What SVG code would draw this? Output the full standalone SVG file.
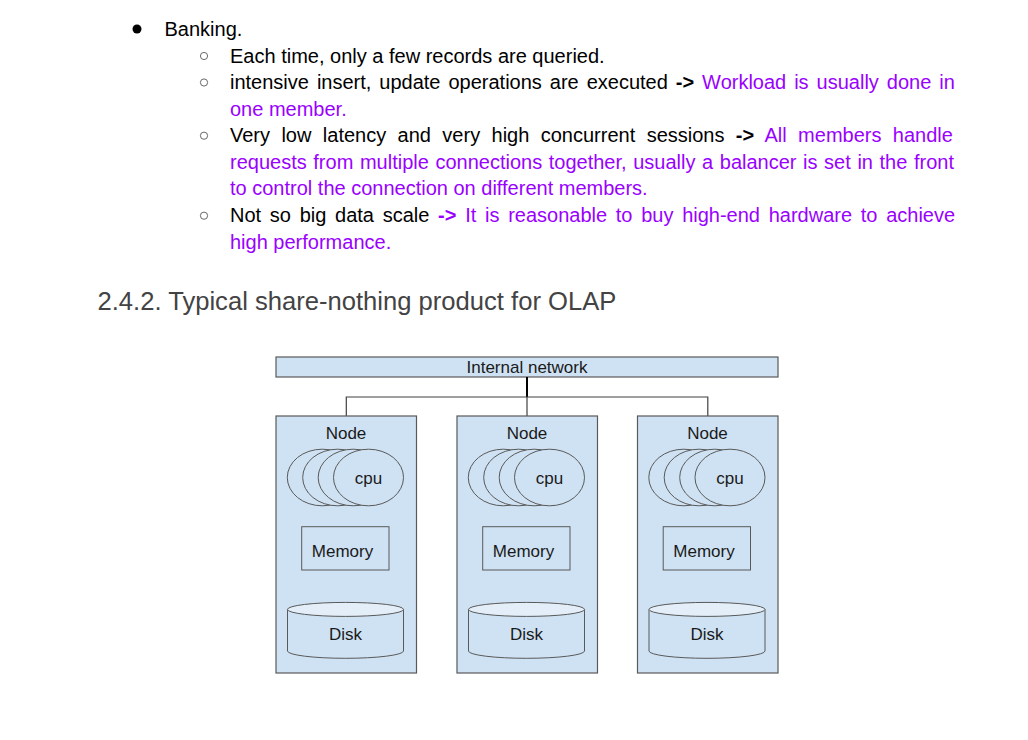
<svg xmlns="http://www.w3.org/2000/svg" width="1028" height="740" viewBox="0 0 1028 740">
<style>
.t{font-family:"Liberation Sans",Arial,sans-serif;font-size:20px;fill:#000}
.p{fill:#9900ff}
.b{font-weight:bold}
.h{font-family:"Liberation Sans",Arial,sans-serif;font-size:25.6px;fill:#434343}
.d{font-family:"Liberation Sans",Arial,sans-serif;font-size:17px;fill:#1a1a1a;text-anchor:middle}
.box{fill:#cfe2f3;stroke:#595959;stroke-width:1.2}
.sh{fill:#cfe2f3;stroke:#595959;stroke-width:1}
.top{fill:#e3eef8;stroke:#595959;stroke-width:1}
.bul{fill:none;stroke:#444;stroke-width:0.8}
.ln{fill:none;stroke:#404040;stroke-width:1.2}
</style>
<rect width="1028" height="740" fill="#fff"/>
<g id="text">
<circle cx="137" cy="29" r="4.5" fill="#000"/>
<text class="t" x="164.5" y="36">Banking.</text>
<circle class="bul" cx="204" cy="56" r="3.6"/>
<text class="t" x="230" y="62.5">Each time, only a few records are queried.</text>
<circle class="bul" cx="204" cy="82.5" r="3.6"/>
<text class="t" x="230" y="89" word-spacing="2.4">intensive insert, update operations are executed <tspan class="b">-&gt;</tspan> <tspan class="p">Workload is usually done in</tspan></text>
<text class="t p" x="230" y="115.6">one member.</text>
<circle class="bul" cx="204" cy="135.7" r="3.6"/>
<text class="t" x="230" y="142.2" word-spacing="5.84">Very low latency and very high concurrent sessions <tspan class="b">-&gt;</tspan> <tspan class="p">All members handle</tspan></text>
<text class="t p" x="230" y="168.8" word-spacing="1.04">requests from multiple connections together, usually a balancer is set in the front</text>
<text class="t p" x="230" y="195.4">to control the connection on different members.</text>
<circle class="bul" cx="204" cy="215.7" r="3.6"/>
<text class="t" x="230" y="222" word-spacing="3.15">Not so big data scale <tspan class="p b">-&gt;</tspan> <tspan class="p">It is reasonable to buy high-end hardware to achieve</tspan></text>
<text class="t p" x="230" y="248.6">high performance.</text>
<text class="h" x="97.5" y="310">2.4.2. Typical share-nothing product for OLAP</text>
</g>
<g id="network">
<rect class="box" x="276" y="357" width="502" height="20"/>
<text class="d" x="527" y="373">Internal network</text>
</g>
<g id="connectors">
<line x1="527" y1="377" x2="527" y2="397" stroke="#000" stroke-width="2"/>
<polyline class="ln" points="346.3,416 346.3,397 707.8,397 707.8,416"/>
<line class="ln" x1="527" y1="397" x2="527" y2="416"/>
</g>
<defs>
<g id="nodeShape">
<rect class="box" x="0" y="0" width="140.5" height="257"/>
<text class="d" x="70" y="22.5">Node</text>
<ellipse class="sh" cx="46.3" cy="61.5" rx="35" ry="28.3"/>
<ellipse class="sh" cx="61.7" cy="61.5" rx="35" ry="28.3"/>
<ellipse class="sh" cx="77.2" cy="61.5" rx="35" ry="28.3"/>
<ellipse class="sh" cx="92.5" cy="61.5" rx="35" ry="28.3"/>
<text class="d" x="92.5" y="67.5">cpu</text>
<rect class="sh" x="25.7" y="110.7" width="87.3" height="43.3"/>
<text class="d" x="66.5" y="140.5">Memory</text>
<path class="sh" d="M11.5,193.4 L11.5,235 A58,7.3 0 0 0 127.5,235 L127.5,193.4 Z"/>
<ellipse class="top" cx="69.5" cy="193.4" rx="58" ry="7"/>
<text class="d" x="69.5" y="223.5">Disk</text>
</g>
</defs>
<g id="node1"><use href="#nodeShape" x="276" y="416"/></g>
<g id="node2"><use href="#nodeShape" x="457" y="416"/></g>
<g id="node3"><use href="#nodeShape" x="637.5" y="416"/></g>
</svg>
